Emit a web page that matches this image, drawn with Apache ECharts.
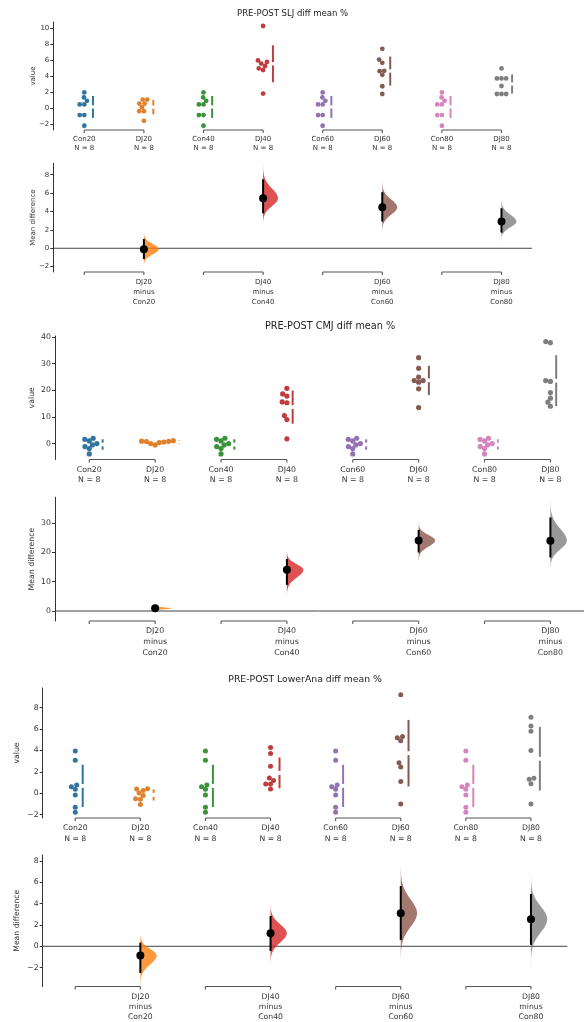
<!DOCTYPE html>
<html><head><meta charset="utf-8">
<script src="https://cdn.jsdelivr.net/npm/echarts@6/dist/echarts.min.js"></script>
<style>html,body{margin:0;padding:0;background:#fff}#c{width:584px;height:1022px}</style>
</head><body><div id="c"></div>
<script>
// ---------------- DATA ----------------
const groups = ['Con20','DJ20','Con40','DJ40','Con60','DJ60','Con80','DJ80'];
const titles = ['PRE-POST SLJ diff mean %','PRE-POST CMJ diff mean %','PRE-POST LowerAna diff mean %'];

// SLJ (control group shared by Con20/40/60/80)
const sljControl = [2.0, 1.37, 0.95, 0.5, 0.5, -0.84, -0.84, -2.17];
const sljDJ20 = [1.1, 1.1, 0.6, 0.6, 0.15, -0.35, -0.35, -1.55];
const sljDJ40 = [10.3, 6.0, 5.8, 5.6, 5.3, 5.0, 4.8, 1.85];
const sljDJ60 = [7.45, 6.1, 5.7, 4.7, 4.65, 4.2, 2.77, 1.8];
const sljDJ80 = [5.0, 3.75, 3.75, 3.75, 2.8, 1.8, 1.8, 1.8];
const sljDiff = [-0.1, 5.43, 4.46, 2.9];
const sljCiLow = [-1.16, 3.8, 2.9, 1.7];
const sljCiHigh = [1.0, 7.5, 6.1, 4.35];
const sljTicks = [-2, 0, 2, 4, 6, 8, 10];
const sljDeltaTicks = [-2, 0, 2, 4, 6, 8];

// CMJ
const cmjControl = [2.0, 1.6, 1.0, 0.0, -0.5, -1.1, -1.85, -3.85];
const cmjDJ20 = [1.1, 0.9, 0.85, 0.8, 0.6, 0.4, 0.0, -0.5];
const cmjDJ40 = [20.7, 18.6, 17.8, 15.6, 15.3, 10.5, 9.0, 1.8];
const cmjDJ60 = [32.2, 28.2, 24.9, 23.6, 23.6, 23.0, 20.5, 13.5];
const cmjDJ80 = [38.2, 37.8, 23.6, 23.3, 19.1, 17.0, 15.5, 14.0];
const cmjDiff = [0.9, 14.0, 24.0, 23.9];
const cmjCiLow = [0.3, 8.9, 19.9, 18.2];
const cmjCiHigh = [1.5, 17.7, 27.6, 31.8];
const cmjTicks = [0, 10, 20, 30, 40];
const cmjDeltaTicks = [0, 10, 20, 30];

// LowerAna
const laControl = [3.95, 3.08, 0.78, 0.62, 0.37, -0.16, -1.31, -1.78];
const laDJ20 = [0.43, 0.4, 0.25, 0.03, -0.2, -0.52, -0.55, -1.05];
const laDJ40 = [4.28, 3.72, 2.52, 1.42, 1.2, 0.86, 0.86, 0.4];
const laDJ60 = [9.2, 5.3, 5.2, 4.9, 2.85, 2.45, 1.1, -1.0];
const laDJ80 = [7.1, 6.3, 5.8, 4.0, 1.4, 1.3, 0.9, -1.0];
const laDiff = [-0.87, 1.22, 3.1, 2.53];
const laCiLow = [-2.5, -0.44, 0.6, 0.13];
const laCiHigh = [0.34, 2.84, 5.65, 4.9];
const laTicks = [-2, 0, 2, 4, 6, 8];
const laDeltaTicks = [-2, 0, 2, 4, 6, 8];

// ---------------- PANELS ----------------
const panels = [
  { groupsData: [sljControl, sljDJ20, sljControl, sljDJ40, sljControl, sljDJ60, sljControl, sljDJ80],
    diff: sljDiff, lo: sljCiLow, hi: sljCiHigh, ticks: sljTicks, dticks: sljDeltaTicks },
  { groupsData: [cmjControl, cmjDJ20, cmjControl, cmjDJ40, cmjControl, cmjDJ60, cmjControl, cmjDJ80],
    diff: cmjDiff, lo: cmjCiLow, hi: cmjCiHigh, ticks: cmjTicks, dticks: cmjDeltaTicks },
  { groupsData: [laControl, laDJ20, laControl, laDJ40, laControl, laDJ60, laControl, laDJ80],
    diff: laDiff, lo: laCiLow, hi: laCiHigh, ticks: laTicks, dticks: laDeltaTicks }
];

// layout (pixels / axis ranges / font sizes)
const layouts = [
  { left: 53.3, step: 59.6, xMin: -0.52, xMax: 7.51,
    sTop: 22, sBot: 130, sMin: -2.7, sMax: 10.8,
    dTop: 163.3, dBot: 272, dMin: -2.58, dMax: 9.24,
    font: 7, tFont: 8.5, tY: 14, nameGap: 16.5, lab: 4, lh: 9.5, dlab: 5, dlh: 10, dot: 4.8, dd: 4.4 },
  { left: 55, step: 68.5, xMin: -0.52, xMax: 7.51,
    sTop: 336, sBot: 459.5, sMin: -5.95, sMax: 40.3,
    dTop: 497.2, dBot: 621, dMin: -3.4, dMax: 38.7,
    font: 7.8, tFont: 9.7, tY: 327.5, nameGap: 19, lab: 5, lh: 10.5, dlab: 4, dlh: 11, dot: 5.2, dd: 4.7 },
  { left: 42.7, step: 65.1, xMin: -0.5, xMax: 7.56,
    sTop: 688, sBot: 818, sMin: -2.31, sMax: 9.84,
    dTop: 855, dBot: 986.5, dMin: -3.77, dMax: 8.56,
    font: 7.7, tFont: 9.3, tY: 681, nameGap: 21.5, lab: 5, lh: 10.5, dlab: 5, dlh: 10.2, dot: 5, dd: 4.6 }
];

const FONT = 'DejaVu Sans';
const TXT = '#333';
const tab10 = ['#1f77b4','#ff7f0e','#2ca02c','#d62728','#9467bd','#8c564b','#e377c2','#7f7f7f'];

function desat(hex, prop) {
  let r = parseInt(hex.slice(1,3),16)/255, g = parseInt(hex.slice(3,5),16)/255, b = parseInt(hex.slice(5,7),16)/255;
  const mx = Math.max(r,g,b), mn = Math.min(r,g,b), l = (mx+mn)/2;
  let h = 0, s = 0;
  if (mx !== mn) {
    const d = mx - mn;
    s = l > 0.5 ? d/(2-mx-mn) : d/(mx+mn);
    if (mx === r) h = (g-b)/d + (g < b ? 6 : 0); else if (mx === g) h = (b-r)/d + 2; else h = (r-g)/d + 4;
    h /= 6;
  }
  s *= prop;
  const hue = (p, q, t) => { if (t < 0) t += 1; if (t > 1) t -= 1; if (t < 1/6) return p+(q-p)*6*t; if (t < 1/2) return q; if (t < 2/3) return p+(q-p)*(2/3-t)*6; return p; };
  const q = l < 0.5 ? l*(1+s) : l+s-l*s, p = 2*l-q;
  if (s === 0) { r = g = b = l; } else { r = hue(p,q,h+1/3); g = hue(p,q,h); b = hue(p,q,h-1/3); }
  return 'rgb(' + Math.round(r*255) + ',' + Math.round(g*255) + ',' + Math.round(b*255) + ')';
}
function rgba(hex, a) {
  return 'rgba(' + parseInt(hex.slice(1,3),16) + ',' + parseInt(hex.slice(3,5),16) + ',' + parseInt(hex.slice(5,7),16) + ',' + a + ')';
}

// seaborn-like beeswarm: returns horizontal pixel offsets
function beeswarm(values, pxY, d) {
  const idx = values.map((v,i) => i).sort((a,b) => values[a] - values[b]);
  const placed = [], out = new Array(values.length);
  idx.forEach(i => {
    const y = values[i] * pxY;
    const neigh = placed.filter(p => Math.abs(p.y - y) < d);
    const cands = [0];
    neigh.forEach(p => { const dy = y - p.y; const dx = Math.sqrt(Math.max(d*d - dy*dy, 0)) * 1.05; cands.push(p.x - dx, p.x + dx); });
    const order = cands.map((c,k) => [c,k]).sort((a,b) => (Math.abs(a[0]) - Math.abs(b[0])) || (a[1] - b[1]));
    let chosen = order[order.length-1][0];
    for (const [c] of order) {
      if (neigh.every(p => Math.hypot(p.x - c, p.y - y) >= d - 1e-6)) { chosen = c; break; }
    }
    placed.push({x: chosen, y: y}); out[i] = chosen;
  });
  return out;
}
const mean = a => a.reduce((s,v) => s+v, 0) / a.length;
const sdev = a => { const m = mean(a); return Math.sqrt(a.reduce((s,v) => s+(v-m)*(v-m), 0) / (a.length-1)); };
const fmt = v => v < 0 ? '\u2212' + (-v) : '' + v;

function yAxisCfg(g, min, max, ticks, name, L) {
  return {
    type: 'value', gridIndex: g, min: min, max: max, name: name, nameLocation: 'middle', nameGap: L.nameGap,
    nameMoveOverlap: false,
    nameTextStyle: { fontSize: L.font, color: TXT, fontFamily: FONT },
    axisLine: { show: true, onZero: false, lineStyle: { color: '#333', width: 1 } },
    axisTick: { show: true, length: 3, customValues: ticks, lineStyle: { color: '#333', width: 1 } },
    axisLabel: { customValues: ticks, fontSize: L.font, color: TXT, margin: 4, fontFamily: FONT, formatter: fmt },
    splitLine: { show: false }
  };
}

const option = { animation: false, backgroundColor: '#fff', title: [], grid: [], xAxis: [], yAxis: [], series: [] };

panels.forEach((P, pi) => {
  const L = layouts[pi];
  const gS = pi*2, gD = pi*2 + 1;
  const width = (L.xMax - L.xMin) * L.step;
  option.title.push({ text: titles[pi], left: L.left + width/2, top: L.tY - L.tFont*0.6, textAlign: 'center', padding: 0,
    textStyle: { fontSize: L.tFont, fontWeight: 'normal', color: '#222', fontFamily: FONT } });
  option.grid.push({ left: L.left, top: L.sTop, width: width, height: L.sBot - L.sTop });
  option.grid.push({ left: L.left, top: L.dTop, width: width, height: L.dBot - L.dTop });
  [gS, gD].forEach(g => option.xAxis.push({ type: 'value', gridIndex: g, min: L.xMin, max: L.xMax, show: false }));
  option.yAxis.push(yAxisCfg(gS, L.sMin, L.sMax, P.ticks, 'value', L));
  option.yAxis.push(yAxisCfg(gD, L.dMin, L.dMax, P.dticks, 'Mean difference', L));

  const pxY = (L.sBot - L.sTop) / (L.sMax - L.sMin);
  const lines = [];
  P.groupsData.forEach((vals, gi) => {
    const offs = beeswarm(vals, pxY, L.dd);
    const col = desat(tab10[gi], 0.75);
    option.series.push({ type: 'scatter', name: groups[gi], xAxisIndex: gS, yAxisIndex: gS, symbolSize: L.dot, z: 3,
      itemStyle: { color: col, opacity: 1 }, data: vals.map((v,k) => [gi + offs[k]/L.step, v]) });
    lines.push([gi + (Math.max.apply(null, offs) + 6)/L.step, mean(vals), sdev(vals), gi]);
  });
  // mean +/- sd gapped lines
  option.series.push({ type: 'custom', xAxisIndex: gS, yAxisIndex: gS, z: 3, data: lines,
    renderItem: (params, api) => {
      const x = api.value(0), m = api.value(1), s = api.value(2), gi = api.value(3);
      const gap = 0.015 * (L.sMax - L.sMin);
      const a = api.coord([x, m - s]), b = api.coord([x, m - gap]), c = api.coord([x, m + gap]), d = api.coord([x, m + s]);
      const st = { stroke: desat(tab10[gi], 0.75), lineWidth: 2 };
      return { type: 'group', children: [
        { type: 'line', shape: { x1: a[0], y1: a[1], x2: b[0], y2: b[1] }, style: st },
        { type: 'line', shape: { x1: c[0], y1: c[1], x2: d[0], y2: d[1] }, style: st } ] };
    } });
  // swarm brackets + labels
  const pairs = [[0,1],[2,3],[4,5],[6,7]];
  option.series.push({ type: 'custom', xAxisIndex: gS, yAxisIndex: gS, z: 2, data: pairs,
    renderItem: (params, api) => {
      const i0 = api.value(0), i1 = api.value(1);
      const p0 = api.coord([i0, L.sMin]), p1 = api.coord([i1, L.sMin]);
      const st = { stroke: '#555', lineWidth: 1.1 };
      const ch = [
        { type: 'line', shape: { x1: p0[0], y1: p0[1], x2: p1[0], y2: p1[1] }, style: st },
        { type: 'line', shape: { x1: p0[0], y1: p0[1], x2: p0[0], y2: p0[1] + 3 }, style: st },
        { type: 'line', shape: { x1: p1[0], y1: p1[1], x2: p1[0], y2: p1[1] + 3 }, style: st } ];
      [[i0, p0], [i1, p1]].forEach(([i, p]) => ch.push({ type: 'text', x: p[0], y: p[1] + L.lab,
        style: { text: groups[i] + '\nN = ' + P.groupsData[i].length, align: 'center', verticalAlign: 'top',
          fontSize: L.font, lineHeight: L.lh, fontFamily: FONT, fill: TXT } }));
      return { type: 'group', children: ch };
    } });

  // ---- delta plot ----
  option.series.push({ type: 'custom', xAxisIndex: gD, yAxisIndex: gD, z: 1, data: [[0]],
    renderItem: (params, api) => {
      const a = api.coord([L.xMin, 0]), b = api.coord([L.xMax, 0]);
      return { type: 'line', shape: { x1: a[0], y1: a[1], x2: b[0], y2: b[1] }, style: { stroke: '#444', lineWidth: 1 } };
    } });
  option.series.push({ type: 'custom', xAxisIndex: gD, yAxisIndex: gD, z: 2, data: pairs,
    renderItem: (params, api) => {
      const i0 = api.value(0), i1 = api.value(1);
      const p0 = api.coord([i0, L.dMin]), p1 = api.coord([i1, L.dMin]);
      const st = { stroke: '#555', lineWidth: 1.1 };
      return { type: 'group', children: [
        { type: 'line', shape: { x1: p0[0], y1: p0[1], x2: p1[0], y2: p1[1] }, style: st },
        { type: 'line', shape: { x1: p0[0], y1: p0[1], x2: p0[0], y2: p0[1] + 3 }, style: st },
        { type: 'line', shape: { x1: p1[0], y1: p1[1], x2: p1[0], y2: p1[1] + 3 }, style: st },
        { type: 'text', x: p1[0], y: p1[1] + L.dlab, style: { text: groups[i1] + '\nminus\n' + groups[i0], align: 'center', verticalAlign: 'top',
          fontSize: L.font, lineHeight: L.dlh, fontFamily: FONT, fill: TXT } } ] };
    } });
  const deltaRows = P.diff.map((m, k) => [2*k + 1, m, P.lo[k], P.hi[k]]);
  option.series.push({ type: 'custom', xAxisIndex: gD, yAxisIndex: gD, z: 3, data: deltaRows,
    renderItem: (params, api) => {
      const x = api.value(0), m = api.value(1), lo = api.value(2), hi = api.value(3);
      const sdL = (m - lo) / 1.96, sdU = (hi - m) / 1.96;
      const pts = [api.coord([x, m - 3.6*sdL])];
      for (let t = -3.6; t <= 3.6001; t += 0.1) {
        const y = m + t * (t < 0 ? sdL : sdU);
        pts.push(api.coord([x + 0.25 * Math.exp(-t*t/2), y]));
      }
      pts.push(api.coord([x, m + 3.6*sdU]));
      const a = api.coord([x, lo]), b = api.coord([x, hi]);
      return { type: 'group', children: [
        { type: 'polygon', shape: { points: pts }, style: { fill: rgba(tab10[x], 0.8) } },
        { type: 'line', shape: { x1: a[0], y1: a[1], x2: b[0], y2: b[1] }, style: { stroke: '#000', lineWidth: 2 } } ] };
    } });
  option.series.push({ type: 'scatter', name: 'mean difference', xAxisIndex: gD, yAxisIndex: gD, z: 5, symbolSize: 8,
    itemStyle: { color: '#000', opacity: 1 }, data: P.diff.map((m, k) => [2*k + 1, m]) });
});

const chart = echarts.init(document.getElementById('c'), null, { renderer: 'canvas' });
chart.setOption(option);
</script>
</body></html>
